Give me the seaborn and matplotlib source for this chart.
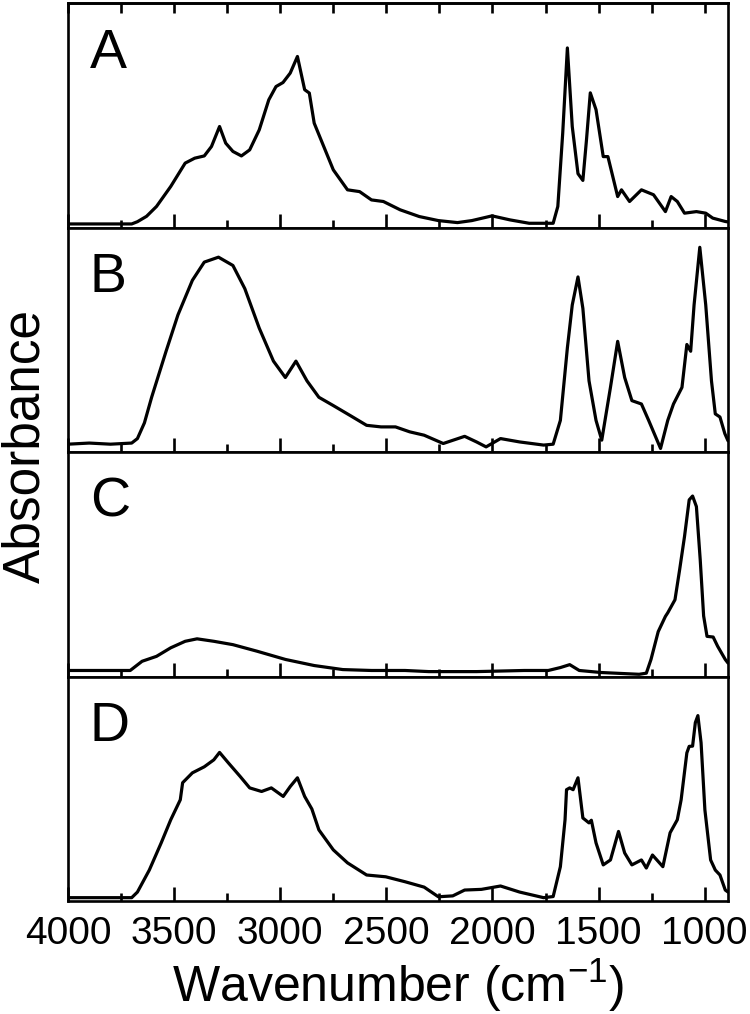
# FTIR spectra A-D, stacked panels sharing the wavenumber axis

import matplotlib
matplotlib.use('Agg')
import matplotlib.pyplot as plt
import numpy as np
import pandas as pd
import seaborn as sns
from matplotlib.ticker import MultipleLocator

# valores (número de onda em cm-1, absorbância relativa)
wn_a = [4000, 3850, 3700, 3673, 3630, 3583, 3516, 3448, 3403, 3358, 3324, 3286,
        3257, 3223, 3183, 3144, 3099, 3054, 3020, 2987, 2953, 2919, 2885, 2863,
        2840, 2795, 2750, 2683, 2626, 2570, 2514, 2435, 2345, 2255, 2165, 2097,
        2002, 1917, 1827, 1714, 1692, 1669, 1647, 1624, 1597, 1574, 1557, 1539,
        1512, 1478, 1456, 1433, 1410, 1392, 1354, 1298, 1241, 1185, 1158, 1129,
        1095, 1039, 995, 962, 903, 890]
abs_a = [0.016, 0.016, 0.016, 0.026, 0.05, 0.094, 0.183, 0.287, 0.309, 0.319,
         0.361, 0.450, 0.376, 0.339, 0.319, 0.346, 0.435, 0.569, 0.628, 0.646,
         0.688, 0.762, 0.614, 0.599, 0.465, 0.361, 0.257, 0.168, 0.160, 0.123,
         0.116, 0.079, 0.049, 0.031, 0.022, 0.031, 0.052, 0.034, 0.019, 0.019,
         0.094, 0.42, 0.80, 0.45, 0.24, 0.21, 0.39, 0.60, 0.525, 0.316, 0.316,
         0.227, 0.138, 0.168, 0.116, 0.168, 0.146, 0.071, 0.138, 0.116, 0.064,
         0.071, 0.064, 0.042, 0.027, 0.025]

wn_b = [4000, 3900, 3800, 3700, 3673, 3640, 3606, 3538, 3482, 3414, 3358, 3291,
        3223, 3167, 3099, 3032, 2976, 2926, 2874, 2818, 2750, 2671, 2593, 2525,
        2457, 2390, 2322, 2232, 2131, 2075, 2030, 1962, 1872, 1759, 1714, 1680,
        1647, 1624, 1597, 1574, 1545, 1512, 1485, 1444, 1410, 1377, 1343, 1298,
        1264, 1208, 1174, 1147, 1107, 1084, 1066, 1050, 1023, 995, 968, 950,
        928, 905, 890]
abs_b = [0.035, 0.04, 0.035, 0.04, 0.06, 0.13, 0.244, 0.449, 0.611, 0.765, 0.846,
         0.868, 0.831, 0.728, 0.552, 0.405, 0.332, 0.405, 0.317, 0.244, 0.207,
         0.163, 0.119, 0.112, 0.112, 0.09, 0.075, 0.038, 0.07, 0.045, 0.023,
         0.06, 0.045, 0.031, 0.035, 0.141, 0.464, 0.655, 0.78, 0.64, 0.317,
         0.141, 0.053, 0.288, 0.493, 0.332, 0.229, 0.214, 0.141, 0.016, 0.141,
         0.214, 0.288, 0.479, 0.449, 0.655, 0.912, 0.655, 0.317, 0.17, 0.156,
         0.082, 0.05]

wn_c = [4000, 3800, 3707, 3651, 3583, 3516, 3448, 3392, 3313, 3223, 3110, 2975,
        2840, 2705, 2570, 2412, 2300, 2075, 1850, 1737, 1680, 1636, 1591, 1489,
        1309, 1275, 1253, 1219, 1185, 1174, 1140, 1118, 1095, 1073, 1057, 1039,
        1021, 1005, 989, 960, 939, 903, 890]
abs_c = [0.027, 0.027, 0.027, 0.068, 0.09, 0.128, 0.157, 0.168, 0.157, 0.142,
         0.113, 0.076, 0.049, 0.031, 0.027, 0.027, 0.022, 0.022, 0.027, 0.027,
         0.04, 0.053, 0.027, 0.018, 0.01, 0.015, 0.076, 0.2, 0.268, 0.284, 0.342,
         0.476, 0.624, 0.787, 0.804, 0.757, 0.52, 0.27, 0.179, 0.176, 0.135,
         0.076, 0.06]

wn_d = [4000, 3850, 3700, 3673, 3617, 3561, 3516, 3471, 3460, 3414, 3358, 3313,
        3286, 3245, 3189, 3144, 3088, 3042, 2986, 2953, 2919, 2885, 2851, 2818,
        2750, 2683, 2593, 2503, 2412, 2322, 2255, 2187, 2131, 2052, 1962, 1872,
        1759, 1714, 1680, 1658, 1651, 1636, 1620, 1597, 1574, 1545, 1534, 1512,
        1478, 1444, 1406, 1377, 1343, 1298, 1275, 1246, 1197, 1163, 1129, 1111,
        1084, 1073, 1057, 1044, 1032, 1017, 999, 972, 950, 928, 903, 890]
abs_d = [0.015, 0.015, 0.015, 0.04, 0.138, 0.259, 0.362, 0.451, 0.527, 0.571,
         0.598, 0.629, 0.662, 0.616, 0.555, 0.504, 0.488, 0.504, 0.466, 0.51,
         0.549, 0.466, 0.41, 0.317, 0.228, 0.17, 0.116, 0.108, 0.086, 0.062,
         0.019, 0.023, 0.049, 0.052, 0.067, 0.04, 0.015, 0.02, 0.153, 0.362,
         0.496, 0.504, 0.496, 0.549, 0.37, 0.348, 0.36, 0.259, 0.161, 0.183,
         0.31, 0.214, 0.161, 0.183, 0.147, 0.205, 0.153, 0.304, 0.362, 0.451,
         0.66, 0.689, 0.69, 0.795, 0.826, 0.705, 0.406, 0.183, 0.138, 0.116,
         0.049, 0.04]

painels = ['A', 'B', 'C', 'D']
espectros = [(wn_a, abs_a), (wn_b, abs_b), (wn_c, abs_c), (wn_d, abs_d)]

sns.set_theme(style='ticks')
plt.rcParams['font.family'] = ['Liberation Sans', 'DejaVu Sans']
plt.rcParams['mathtext.fontset'] = 'custom'
plt.rcParams['mathtext.rm'] = 'Liberation Sans'
plt.rcParams['mathtext.it'] = 'Liberation Sans:italic'
plt.rcParams['text.color'] = 'black'
plt.rcParams['axes.edgecolor'] = 'black'
plt.rcParams['axes.linewidth'] = 1.9

fig, axes = plt.subplots(4, 1, figsize=(7.5, 10.14), dpi=100)
fig.subplots_adjust(left=0.0907, right=0.9707, top=0.997, bottom=0.1114,
                    hspace=0)

for i, (ax, nome, (wn, ab)) in enumerate(zip(axes, painels, espectros)):
    df = pd.DataFrame({'wavenumber': wn, 'absorbance': ab})
    sns.lineplot(data=df, x='wavenumber', y='absorbance', ax=ax,
                 color='black', linewidth=2.3)
    ax.set_xlim(4000, 890)
    ax.set_ylim(0, 1)
    ax.set_xlabel('')
    ax.set_ylabel('')
    ax.tick_params(axis='y', left=False, labelleft=False)
    ax.xaxis.set_major_locator(MultipleLocator(500))
    ax.xaxis.set_minor_locator(MultipleLocator(250))
    ax.tick_params(axis='x', which='major', direction='in', length=10,
                   width=1.9, color='black', bottom=True, labelsize=28,
                   pad=11, labelcolor='black', labelbottom=(i == 3))
    ax.tick_params(axis='x', which='minor', direction='in', length=6,
                   width=1.9, color='black', bottom=True)
    ax.text(0.033, 0.89, nome, transform=ax.transAxes, fontsize=40,
            ha='left', va='top', color='black')

# marcas no topo do primeiro painel
topo = axes[0].secondary_xaxis('top')
topo.xaxis.set_major_locator(MultipleLocator(250))
topo.tick_params(axis='x', direction='in', length=7, width=1.9,
                 labeltop=False, color='black')

fig.text(0.531, 0.012, 'Wavenumber (cm$^{-1}$)', fontsize=36,
         ha='center', va='baseline', color='black')
fig.text(0.035, 0.56, 'Absorbance', fontsize=37, rotation=90,
         ha='center', va='center', color='black')

plt.savefig('out.png', dpi=100)
